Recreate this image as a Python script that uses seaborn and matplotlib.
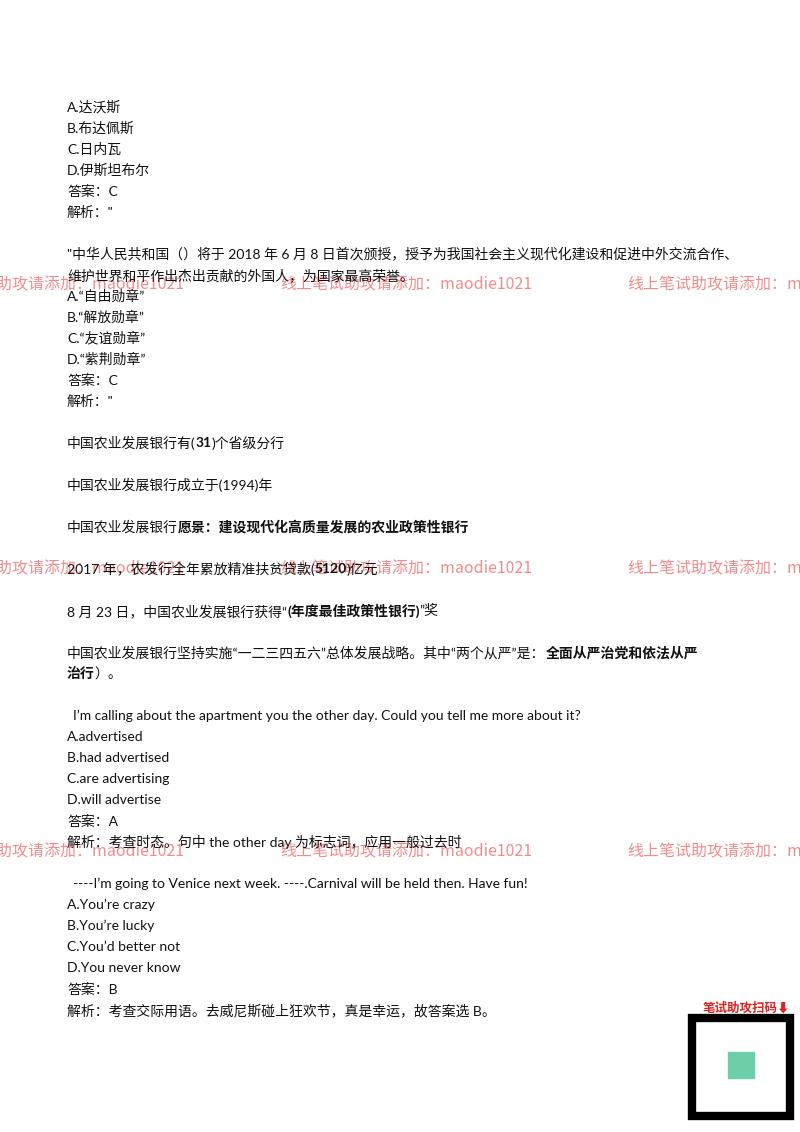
import matplotlib
matplotlib.use("Agg")
import matplotlib.pyplot as plt
import seaborn as sns

sns.set_theme(style="white")
plt.rcParams['font.family'] = ['Lato', 'Noto Sans CJK SC', 'DejaVu Sans']

# each line: (y pixel, x pixel, [(segment, bold)])
lines = [
    (107, 67, [("A.达沃斯", False)]),
    (128, 67, [("B.布达佩斯", False)]),
    (149, 67, [("C.日内瓦", False)]),
    (170, 67, [("D.伊斯坦布尔", False)]),
    (191, 67, [("答案：C", False)]),
    (212, 67, [("解析：\"", False)]),
    (254, 67, [("\"中华人民共和国（）将于 2018 年 6 月 8 日首次颁授，授予为我国社会主义现代化建设和促进中外交流合作、", False)]),
    (275, 67, [("维护世界和平作出杰出贡献的外国人，为国家最高荣誉。", False)]),
    (296, 67, [("A.“自由勋章”", False)]),
    (317, 67, [("B.“解放勋章”", False)]),
    (338, 67, [("C.“友谊勋章”", False)]),
    (359, 67, [("D.“紫荆勋章”", False)]),
    (380, 67, [("答案：C", False)]),
    (401, 67, [("解析：\"", False)]),
    (443, 67, [("中国农业发展银行有(", False), ("31", True), (")个省级分行", False)]),
    (485, 67, [("中国农业发展银行成立于(1994)年", False)]),
    (527, 67, [("中国农业发展银行", False), ("愿景：建设现代化高质量发展的农业政策性银行", True)]),
    (569, 67, [("2017 年，农发行全年累放精准扶贫贷款(", False), ("5120", True), (")亿元", False)]),
    (611, 67, [("8 月 23 日，中国农业发展银行获得“", False), ("(年度最佳政策性银行)", True), ("”奖", False)]),
    (653, 67, [("中国农业发展银行坚持实施“一二三四五六”总体发展战略。其中“两个从严”是：", False), ("全面从严治党和依法从严", True)]),
    (674, 67, [("治行", True), ("）。", False)]),
    (716, 73, [("I’m calling about the apartment you the other day. Could you tell me more about it?", False)]),
    (737, 67, [("A.advertised", False)]),
    (758, 67, [("B.had advertised", False)]),
    (779, 67, [("C.are advertising", False)]),
    (800, 67, [("D.will advertise", False)]),
    (821, 67, [("答案：A", False)]),
    (842, 67, [("解析：考查时态。句中 the other day 为标志词，应用一般过去时", False)]),
    (884, 73, [("----I’m going to Venice next week. ----.Carnival will be held then. Have fun!", False)]),
    (905, 67, [("A.You’re crazy", False)]),
    (926, 67, [("B.You’re lucky", False)]),
    (947, 67, [("C.You’d better not", False)]),
    (968, 67, [("D.You never know", False)]),
    (989, 67, [("答案：B", False)]),
    (1010, 67, [("解析：考查交际用语。去威尼斯碰上狂欢节，真是幸运，故答案选 B。", False)]),
]

watermark_rows = [285, 569, 852]
watermark_x = [-68, 280, 627]
watermark_text = "线上笔试助攻请添加：maodie1021"

W, H = 800, 1132
fig = plt.figure(figsize=(8, 11.32), dpi=100)
fig.patch.set_facecolor("white")
ax = fig.add_axes([0, 0, 1, 1])
ax.set_xlim(0, W)
ax.set_ylim(H, 0)
ax.axis("off")

for y in watermark_rows:
    for x in watermark_x:
        ax.text(x, y, watermark_text, color="#f08080", fontsize=11.5, va="center",
                family=['Noto Sans CJK SC', 'DejaVu Sans'], alpha=0.9, clip_on=False)

fig.canvas.draw()
r = fig.canvas.get_renderer()
inv = ax.transData.inverted()
for y, x0, segs in lines:
    x = x0
    for s, b in segs:
        t = ax.text(x, y, s, fontsize=10, va="center", color="#111111",
                    fontweight="bold" if b else "normal")
        bb = t.get_window_extent(renderer=r)
        x = inv.transform((bb.x1, bb.y0))[0]

ax.text(790, 1008, "笔试助攻扫码⬇", color="#d22", fontsize=9, ha="right", va="center",
        fontweight="bold", family=['Noto Sans CJK SC', 'DejaVu Sans'])
ax.add_patch(plt.Rectangle((692, 1018), 98, 98, fill=False, lw=6, color="black"))
ax.add_patch(plt.Rectangle((728, 1052), 26, 26, color="#6ccfa8"))

fig.savefig("out.png", dpi=100)
